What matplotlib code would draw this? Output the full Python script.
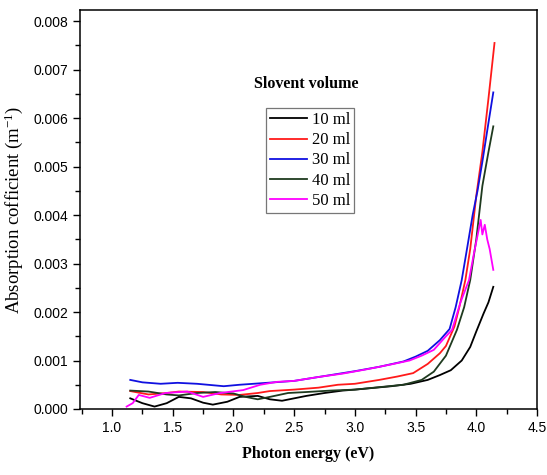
import matplotlib.pyplot as plt
from matplotlib.ticker import MultipleLocator

plt.rcParams['mathtext.fontset'] = 'custom'
plt.rcParams['mathtext.rm'] = 'Liberation Serif'
plt.rcParams['mathtext.it'] = 'Liberation Serif:italic'

# Photon energy (eV) and absorption coefficient
x_10 = [1.15, 1.25, 1.35, 1.45, 1.55, 1.65, 1.75, 1.83, 1.95, 2.05, 2.2, 2.3, 2.4,
        2.5, 2.6, 2.75, 2.9, 3.0, 3.13, 3.3, 3.46, 3.6, 3.7, 3.79, 3.88, 3.95,
        4.0, 4.06, 4.1, 4.14]
y_10 = [0.00022, 0.00012, 0.00005, 0.00012, 0.00025, 0.00022, 0.00013, 0.00009,
        0.00015, 0.00025, 0.00027, 0.00020, 0.00017, 0.00022, 0.00027, 0.00033,
        0.00038, 0.00040, 0.00043, 0.00047, 0.00052, 0.00060, 0.00070, 0.00080,
        0.00100, 0.00128, 0.00160, 0.00197, 0.00220, 0.00252]

x_20 = [1.15, 1.3, 1.45, 1.55, 1.75, 1.9, 2.05, 2.2, 2.3, 2.5, 2.7, 2.86, 3.0,
        3.2, 3.35, 3.48, 3.6, 3.7, 3.75, 3.82, 3.86, 3.91, 3.95, 4.0, 4.05, 4.1,
        4.15]
y_20 = [0.00037, 0.00030, 0.00033, 0.00036, 0.00035, 0.00030, 0.00029, 0.00033,
        0.00037, 0.00040, 0.00044, 0.00050, 0.00052, 0.00060, 0.00067, 0.00074,
        0.00093, 0.00115, 0.00130, 0.00170, 0.00210, 0.00266, 0.00330, 0.00440,
        0.00530, 0.00640, 0.00755]

x_30 = [1.15, 1.25, 1.4, 1.54, 1.7, 1.92, 2.05, 2.22, 2.39, 2.5, 2.7, 2.9, 3.0,
        3.2, 3.4, 3.5, 3.6, 3.7, 3.78, 3.83, 3.88, 3.93, 3.97, 4.01, 4.05, 4.1,
        4.14]
y_30 = [0.00060, 0.00055, 0.00052, 0.00054, 0.00052, 0.00047, 0.00050, 0.00053,
        0.00056, 0.00058, 0.00066, 0.00074, 0.00078, 0.00087, 0.00098, 0.00108,
        0.00120, 0.00142, 0.00165, 0.00210, 0.00266, 0.00340, 0.00400, 0.00450,
        0.00510, 0.00590, 0.00653]

x_40 = [1.15, 1.3, 1.45, 1.55, 1.7, 1.85, 2.0, 2.1, 2.2, 2.3, 2.45, 2.6, 2.8,
        3.0, 3.2, 3.4, 3.55, 3.65, 3.75, 3.84, 3.9, 3.95, 4.0, 4.05, 4.1, 4.14]
y_40 = [0.00038, 0.00036, 0.00030, 0.00028, 0.00033, 0.00035, 0.00032, 0.00025,
        0.00020, 0.00025, 0.00033, 0.00035, 0.00038, 0.00040, 0.00045, 0.00050,
        0.00060, 0.00077, 0.00110, 0.00163, 0.00210, 0.00266, 0.00350, 0.00460,
        0.00530, 0.00583]

x_50 = [1.12, 1.17, 1.22, 1.31, 1.44, 1.62, 1.75, 1.89, 2.08, 2.22, 2.36, 2.5,
        2.7, 2.9, 3.1, 3.3, 3.45, 3.55, 3.65, 3.75, 3.8, 3.87, 3.94, 3.98, 4.02,
        4.036, 4.05, 4.07, 4.09, 4.11, 4.14]
y_50 = [0.00005, 0.00012, 0.00029, 0.00023, 0.00033, 0.00036, 0.00025, 0.00033,
        0.00039, 0.00050, 0.00056, 0.00058, 0.00066, 0.00073, 0.00082, 0.00092,
        0.00100, 0.00110, 0.00122, 0.00150, 0.00163, 0.00220, 0.00266, 0.00320,
        0.00370, 0.00390, 0.00360, 0.00380, 0.00350, 0.00330, 0.00287]

labels = ['10 ml', '20 ml', '30 ml', '40 ml', '50 ml']
colors = ['black', '#ff1a1a', '#1010e0', '#1f3a1f', '#ff00ff']

fig = plt.figure(figsize=(5.47, 4.75), dpi=100)
ax = fig.add_axes([80 / 547, 66 / 475, 457 / 547, 399 / 475])

series = [(x_10, y_10), (x_20, y_20), (x_30, y_30), (x_40, y_40), (x_50, y_50)]
for (xs, ys), lab, c in zip(series, labels, colors):
    ax.plot(xs, ys, color=c, lw=1.3, label=lab)

ax.set_xlim(0.736, 4.5)
ax.set_ylim(0, 0.00823)
ax.xaxis.set_major_locator(MultipleLocator(0.5))
ax.xaxis.set_minor_locator(MultipleLocator(0.25))
ax.yaxis.set_major_locator(MultipleLocator(0.001))
ax.yaxis.set_minor_locator(MultipleLocator(0.0005))
ax.yaxis.set_major_formatter(plt.FuncFormatter(lambda v, p: f"{v:.3f}"))
ax.xaxis.set_major_formatter(plt.FuncFormatter(lambda v, p: f"{v:.1f}"))
ax.tick_params(which='both', direction='out', top=False, right=False)
ax.tick_params(which='major', length=5, width=1)
ax.tick_params(which='minor', length=3.5, width=1)
for lbl in ax.get_xticklabels() + ax.get_yticklabels():
    lbl.set_family('Liberation Sans')
    lbl.set_fontsize(10)
for s in ax.spines.values():
    s.set_linewidth(1.1)

ax.set_xlabel('Photon energy (eV)', family='Liberation Serif',
              fontweight='bold', fontsize=11.5, labelpad=8)
ax.set_ylabel('Absorption cofficient (m$^{-1}$)', family='Liberation Serif',
              fontsize=13.5, labelpad=6)

fig.text(306 / 547, 1 - 84 / 475, 'Slovent volume', family='Liberation Serif',
         fontweight='bold', fontsize=11.5, ha='center', va='center')
leg = ax.legend(loc='upper left', bbox_to_anchor=(266 / 547, 1 - 108 / 475),
                bbox_transform=fig.transFigure, frameon=True, fancybox=False,
                prop={'family': 'Liberation Serif', 'size': 12},
                handlelength=2.2, handletextpad=0.3, labelspacing=0.25,
                borderpad=0.25, borderaxespad=0)
leg.get_frame().set_edgecolor('#555555')
leg.get_frame().set_linewidth(0.9)

fig.savefig('out.png', dpi=100)
